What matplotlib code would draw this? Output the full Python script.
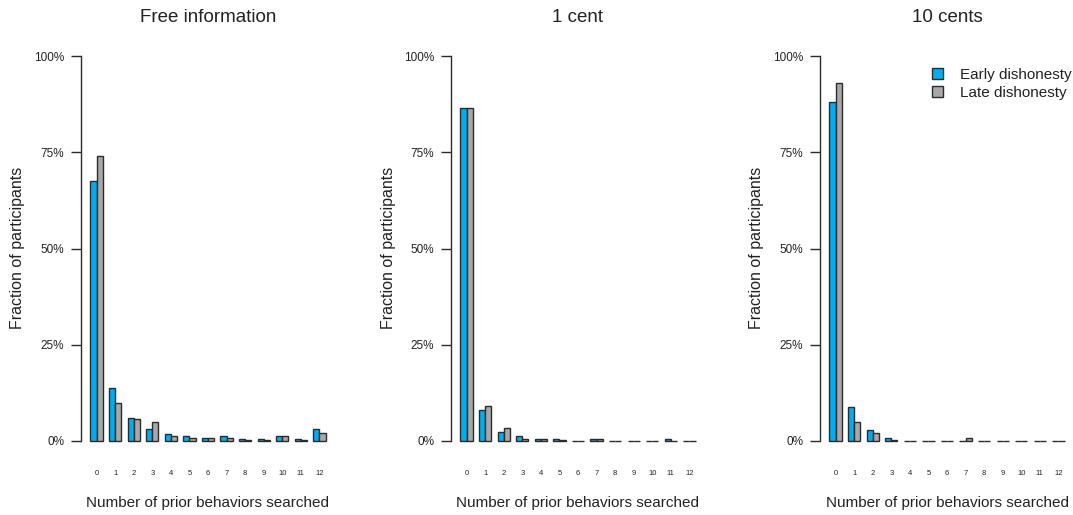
import numpy as np
import matplotlib
matplotlib.use("Agg")
from matplotlib import pyplot as plt

plt.rcParams['font.family'] = ['Liberation Sans', 'DejaVu Sans']

# data (fractions of participants)
searched = [str(k) for k in range(13)]
titles = ["Free information", "1 cent", "10 cents"]

free_early = [0.675, 0.138, 0.058, 0.029, 0.017, 0.011, 0.007, 0.012, 0.005, 0.005, 0.012, 0.005, 0.029]
free_late = [0.740, 0.099, 0.056, 0.049, 0.012, 0.007, 0.007, 0.007, 0.002, 0.002, 0.012, 0.001, 0.019]

cent1_early = [0.866, 0.080, 0.022, 0.011, 0.005, 0.005, 0.0, 0.005, 0.0, 0.0, 0.0, 0.005, 0.0]
cent1_late = [0.865, 0.089, 0.033, 0.005, 0.005, 0.001, 0.0, 0.005, 0.0, 0.0, 0.0, 0.0, 0.0]

cent10_early = [0.882, 0.087, 0.027, 0.006, 0.0, 0.0, 0.0, 0.0, 0.0, 0.0, 0.0, 0.0, 0.0]
cent10_late = [0.930, 0.048, 0.020, 0.001, 0.0, 0.0, 0.0, 0.006, 0.0, 0.0, 0.0, 0.0, 0.0]

early = [free_early, cent1_early, cent10_early]
late = [free_late, cent1_late, cent10_late]

blue = "#00AEEF"
grey = "#A8A8A8"
edge = "#2b2b2b"
txt = "#222222"

W, H = 1073, 515
fig = plt.figure(figsize=(W / 100, H / 100), dpi=100)

lefts = [81, 451, 820]
ylab_x = [18, 388, 757]
for p in range(3):
    ax = fig.add_axes([lefts[p] / W, (H - 456) / H, 254 / W, 415 / H])
    n = len(searched)
    pos = 1 + 3 * np.arange(n)
    ax.bar(pos, early[p], width=1, align='edge', color=blue, edgecolor=edge, linewidth=1.0, label="Early dishonesty")
    ax.bar(pos + 1, late[p], width=1, align='edge', color=grey, edgecolor=edge, linewidth=1.0, label="Late dishonesty")
    ax.set_xlim(1 - 38 * 0.04, 3 * n + 38 * 0.04)
    ax.set_ylim(-0.04, 1.04)
    for s in ['top', 'right', 'bottom']:
        ax.spines[s].set_visible(False)
    ax.spines['left'].set_bounds(0, 1)
    ax.spines['left'].set_color(edge)
    ax.spines['left'].set_linewidth(1.0)
    ax.set_yticks([0, 0.25, 0.5, 0.75, 1.0])
    ax.set_yticklabels(["0%", "25%", "50%", "75%", "100%"])
    ax.tick_params(axis='y', length=7, width=1.0, color=edge, labelsize=8.5, labelcolor=txt, pad=5)
    ax.set_xticks(pos + 1)
    ax.set_xticklabels(searched)
    ax.tick_params(axis='x', length=0, labelsize=5.5, labelcolor=txt, pad=10)

    cx = (lefts[p] + 127) / W
    fig.text(cx, 1 - 18 / H, titles[p], ha='center', va='center', fontsize=13.5, color=txt)
    fig.text(cx, 1 - 503 / H, "Number of prior behaviors searched", ha='center', va='center',
             fontsize=11, color=txt)
    fig.text(ylab_x[p] / W, 1 - 248 / H, "Fraction of participants", ha='center', va='center',
             rotation=90, fontsize=11.5, color=txt)
    if p == 2:
        ax.legend(loc='upper right', bbox_to_anchor=(1.046, 0.968), frameon=False, fontsize=11,
                  handlelength=0.7, handleheight=0.7, handletextpad=1.15, labelspacing=0.27,
                  labelcolor=txt)

fig.savefig("out.png", dpi=100)
